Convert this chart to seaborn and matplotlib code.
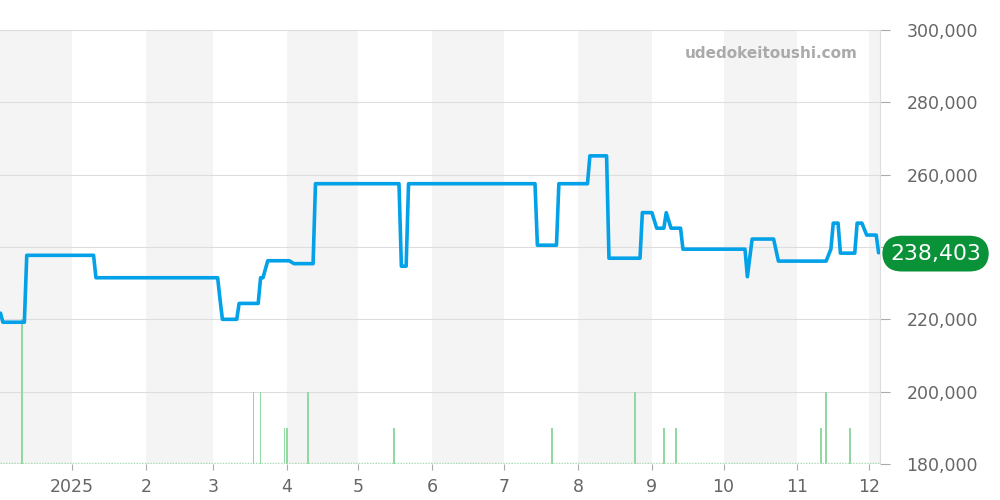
import matplotlib
matplotlib.use("Agg")
import matplotlib.pyplot as plt
import matplotlib.dates as mdates
from matplotlib.ticker import FixedLocator
import seaborn as sns
import pandas as pd

# ---- data ----
price_dates = [
    "2024-12-02", "2024-12-03", "2024-12-12", "2024-12-13", "2025-01-10", "2025-01-11",
    "2025-03-03", "2025-03-04", "2025-03-05", "2025-03-11", "2025-03-12", "2025-03-20",
    "2025-03-21", "2025-03-22", "2025-03-24", "2025-04-02", "2025-04-04", "2025-04-12",
    "2025-04-13", "2025-05-18", "2025-05-19", "2025-05-21", "2025-05-22", "2025-07-14",
    "2025-07-15", "2025-07-23", "2025-07-24", "2025-08-05", "2025-08-06", "2025-08-13",
    "2025-08-14", "2025-08-27", "2025-08-28", "2025-09-01", "2025-09-03", "2025-09-06",
    "2025-09-07", "2025-09-09", "2025-09-13", "2025-09-14", "2025-10-10", "2025-10-11",
    "2025-10-13", "2025-10-22", "2025-10-24", "2025-11-13", "2025-11-15", "2025-11-16",
    "2025-11-18", "2025-11-19", "2025-11-25", "2025-11-26", "2025-11-28", "2025-11-30",
    "2025-12-04", "2025-12-05",
]
price_values = [
    221700, 219200, 219200, 237700, 237700, 231500,
    231500, 225500, 220000, 220000, 224400, 224400,
    231500, 231500, 236200, 236200, 235400, 235400,
    257500, 257500, 234700, 234700, 257500, 257500,
    240500, 240500, 257500, 257500, 265200, 265200,
    236900, 236900, 249500, 249500, 245200, 245200,
    249500, 245200, 245200, 239400, 239400, 231800,
    242200, 242200, 236100, 236100, 239400, 246600,
    246600, 238300, 238300, 246600, 246600, 243300,
    243300, 238403,
]
volume_dates = [
    "2024-12-11", "2025-03-18", "2025-03-21", "2025-03-31", "2025-04-01", "2025-04-10",
    "2025-05-16", "2025-07-21", "2025-08-25", "2025-09-06", "2025-09-11", "2025-11-11",
    "2025-11-13", "2025-11-23",
]
volume_values = [4, 2, 2, 1, 1, 2, 1, 1, 2, 1, 1, 1, 2, 1]

month_starts = ["2025-01-01", "2025-02-01", "2025-03-01", "2025-04-01", "2025-05-01",
                "2025-06-01", "2025-07-01", "2025-08-01", "2025-09-01", "2025-10-01",
                "2025-11-01", "2025-12-01"]
month_labels = ["2025", "2", "3", "4", "5", "6", "7", "8", "9", "10", "11", "12"]
y_ticks = [180000, 200000, 220000, 240000, 260000, 280000, 300000]
y_labels = ["180,000", "200,000", "220,000", "", "260,000", "280,000", "300,000"]
current_label = "238,403"
watermark = "udedokeitoushi.com"

# ---- figure ----
sns.set_theme(style="white")
plt.rcParams["font.family"] = ["DejaVu Sans"]

fig = plt.figure(figsize=(10, 5), dpi=100)
ax = fig.add_axes([0.0, 0.072, 0.88, 0.868])
ax2 = ax.twinx()
ax.set_zorder(ax2.get_zorder() + 1)
ax.patch.set_visible(False)

df = pd.DataFrame({"date": pd.to_datetime(price_dates), "price": price_values})
vdf = pd.DataFrame({"date": pd.to_datetime(volume_dates), "volume": volume_values})

x_left = pd.Timestamp("2024-12-01 19:00")
x_right = pd.Timestamp("2025-12-05 14:00")

# alternating month shading
bounds = [pd.Timestamp("2024-12-01")] + list(pd.to_datetime(month_starts)) + [pd.Timestamp("2026-01-01")]
for i in range(len(bounds) - 1):
    if i % 2 == 0:
        ax2.axvspan(bounds[i], bounds[i + 1], color="#f4f4f4", zorder=0, lw=0)

# gridlines
for yt in y_ticks:
    ax2.axhline((yt - 180000) / 120000 * 12, color="#dddddd", lw=0.8, zorder=0.5)

# volume bars
ax2.bar(vdf["date"], vdf["volume"], width=0.75, color="#93d7a2", zorder=1, lw=0)
ax2.axhline(0.03, color="#a8dcb2", lw=1.0, ls=(0, (1, 1)), zorder=1)
ax2.set_ylim(0, 12)
ax2.set_yticks([])
for s in ax2.spines.values():
    s.set_visible(False)

# price line
sns.lineplot(data=df, x="date", y="price", ax=ax, color="#03a1e8", lw=2.6, zorder=3)

ax.set_xlim(x_left, x_right)
ax2.set_xlim(x_left, x_right)
ax.set_ylim(180000, 300000)
ax.set_xlabel("")
ax.set_ylabel("")

ax.yaxis.tick_right()
ax.set_yticks(y_ticks)
ax.set_yticklabels(y_labels)
ax.tick_params(axis="y", which="both", length=7, width=0.8, color="#aaaaaa",
               labelsize=12.5, labelcolor="#666666", pad=12, right=True, left=False)

ax.xaxis.set_major_locator(FixedLocator(mdates.date2num(pd.to_datetime(month_starts))))
ax.set_xticklabels(month_labels)
ax.tick_params(axis="x", which="both", length=4, width=0.8, color="#aaaaaa",
               labelsize=12.5, labelcolor="#666666", pad=6, bottom=True)

for name, s in ax.spines.items():
    s.set_visible(name == "right")
ax.spines["right"].set_color("#dddddd")
ax.spines["right"].set_linewidth(0.8)
ax.grid(False)

# watermark
ax.text(0.975, 0.945, watermark, transform=ax.transAxes, ha="right", va="center",
        fontsize=11, fontweight="bold", color="#aaaaaa", zorder=5)

# current value label
ax.annotate(current_label, xy=(1.0, price_values[-1]), xycoords=("axes fraction", "data"),
            xytext=(40, -0.6), textcoords="offset points", ha="center", va="center",
            fontsize=15.8, color="white", annotation_clip=False,
            bbox=dict(boxstyle="round,pad=0.36,rounding_size=0.9", fc="#0a9239", ec="none"),
            zorder=6)

fig.savefig("out.png", dpi=100)
